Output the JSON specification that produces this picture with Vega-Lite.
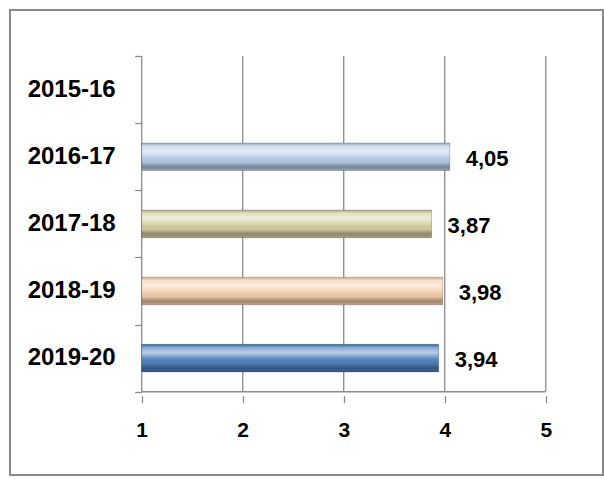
{
  "$schema": "https://vega.github.io/schema/vega-lite/v6.json",
  "width": 593,
  "height": 465,
  "autosize": {"type": "none"},
  "padding": {"left": 10, "top": 10, "right": 1, "bottom": 4},
  "background": "white",
  "config": {
    "view": {"stroke": "#8a8a8a", "strokeWidth": 2},
    "font": "Liberation Sans",
    "locale": {"number": {"decimal": ",", "thousands": ".", "grouping": [3], "currency": ["", " €"]}}
  },
  "datasets": {
    "bars": [
      {"year": "2015-16", "pos": 1, "value": null},
      {"year": "2016-17", "pos": 2, "value": 4.05},
      {"year": "2017-18", "pos": 3, "value": 3.87},
      {"year": "2018-19", "pos": 4, "value": 3.98},
      {"year": "2019-20", "pos": 5, "value": 3.94}
    ],
    "grid": [{"t": 1}, {"t": 2}, {"t": 3}, {"t": 4}, {"t": 5}]
  },
  "data": {"name": "bars"},
  "layer": [
    {
      "data": {"name": "grid"},
      "mark": {"type": "rule", "color": "#8c8c8c", "strokeWidth": 1.3},
      "encoding": {
        "x": {"field": "t", "type": "quantitative",
          "scale": {"domain": [-0.304, 5.567], "nice": false, "zero": false},
          "axis": {"title": null, "values": [1, 2, 3, 4, 5], "grid": false, "domain": false, "offset": -79.3, "tickSize": 7, "tickColor": "#8c8c8c", "tickWidth": 1.3, "labelFont": "Liberation Sans", "labelFontSize": 21, "labelFontWeight": "bold", "labelColor": "black", "labelPadding": 17, "format": "d"}},
        "y": {"datum": 0.5, "type": "quantitative",
          "scale": {"domain": [-0.112, 6.666], "reverse": true, "nice": false, "zero": false},
          "axis": {"title": null, "values": [0.5, 1.5, 2.5, 3.5, 4.5, 5.5], "grid": false, "domain": false, "labels": false, "offset": -131.7, "tickSize": 7, "tickColor": "#8c8c8c", "tickWidth": 1.3}},
        "y2": {"datum": 5.5}
      }
    },
    {
      "data": {"values": [{"t": 1}]},
      "mark": {"type": "rule", "color": "#8c8c8c", "strokeWidth": 1.3},
      "encoding": {
        "x": {"datum": 1, "type": "quantitative"},
        "x2": {"datum": 5},
        "y": {"datum": 5.5, "type": "quantitative"}
      }
    },
    {
      "mark": {"type": "bar", "orient": "horizontal", "size": 27.6},
      "encoding": {
        "x": {"field": "value", "type": "quantitative"},
        "x2": {"datum": 1},
        "y": {"field": "pos", "type": "quantitative"},
        "color": {"field": "year", "type": "nominal", "legend": null,
          "scale": {"domain": ["2015-16", "2016-17", "2017-18", "2018-19", "2019-20"],
                    "range": ["#cccccc", "#b8cde6", "#d6d0a2", "#f5cfae", "#4f81bd"]}}
      }
    },
    {
      "mark": {"type": "bar", "orient": "horizontal", "size": 27.6,
        "fill": {"gradient": "linear", "x1": 0, "y1": 0, "x2": 0, "y2": 1,
          "stops": [
            {"offset": 0, "color": "rgba(0,0,0,0.10)"},
            {"offset": 0.1, "color": "rgba(255,255,255,0.30)"},
            {"offset": 0.3, "color": "rgba(255,255,255,0.62)"},
            {"offset": 0.5, "color": "rgba(255,255,255,0.12)"},
            {"offset": 0.7, "color": "rgba(0,0,0,0.05)"},
            {"offset": 0.86, "color": "rgba(0,0,0,0.35)"},
            {"offset": 1, "color": "rgba(0,0,0,0.22)"}
          ]},
        "stroke": "rgba(0,0,0,0.25)", "strokeWidth": 0.8},
      "encoding": {
        "x": {"field": "value", "type": "quantitative"},
        "x2": {"datum": 1},
        "y": {"field": "pos", "type": "quantitative"}
      }
    },
    {
      "mark": {"type": "text", "align": "left", "baseline": "middle", "dx": 16, "dy": 2, "font": "Liberation Sans", "fontSize": 22, "fontWeight": "bold", "color": "black"},
      "encoding": {
        "x": {"field": "value", "type": "quantitative"},
        "y": {"field": "pos", "type": "quantitative"},
        "text": {"field": "value", "type": "quantitative", "format": ".2f"}
      }
    },
    {
      "mark": {"type": "text", "align": "right", "baseline": "middle", "dx": -26, "font": "Liberation Sans", "fontSize": 24, "fontWeight": "bold", "color": "black"},
      "encoding": {
        "x": {"datum": 1, "type": "quantitative"},
        "y": {"field": "pos", "type": "quantitative"},
        "text": {"field": "year", "type": "nominal"}
      }
    }
  ]
}
